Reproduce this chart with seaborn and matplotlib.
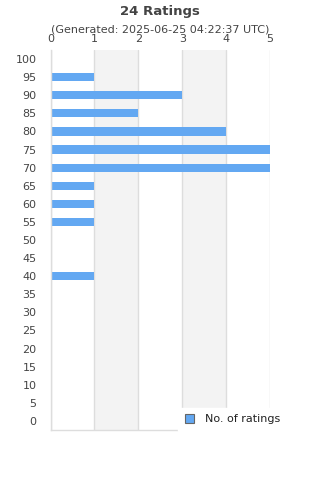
import matplotlib
matplotlib.use("Agg")
from matplotlib import pyplot as plt
import pandas as pd
import seaborn as sns

# ratings (score bucket) and how many ratings fell in each
scores = [100, 95, 90, 85, 80, 75, 70, 65, 60, 55, 50, 45, 40, 35, 30, 25, 20, 15, 10, 5, 0]
counts = [0, 1, 3, 2, 4, 5, 5, 1, 1, 1, 0, 0, 1, 0, 0, 0, 0, 0, 0, 0, 0]
title = "24 Ratings"
subtitle = "(Generated: 2025-06-25 04:22:37 UTC)"

df = pd.DataFrame({"score": [str(s) for s in scores], "n": counts})

sns.set_style("white")
plt.rcParams['font.family'] = ['DejaVu Sans']

fig = plt.figure(figsize=(3.2, 4.8), dpi=100)
ax = fig.add_axes([50.5 / 320, 1 - 430 / 480, 219.5 / 320, 380 / 480])

# alternating bands
for a in (1, 3):
    ax.axvspan(a, a + 1, color="#f3f3f3", zorder=0, lw=0)
for x in range(0, 6):
    ax.axvline(x, color="#dddddd", lw=1, zorder=1)

sns.barplot(data=df, x="n", y="score", order=df["score"], orient="h",
            color="#63a8f2", saturation=1, width=0.45, ax=ax, zorder=2,
            linewidth=0, label="No. of ratings")

ax.set_xlim(0, 5)
ax.set_ylim(20.5, -0.5)
ax.xaxis.tick_top()
ax.set_xticks(range(0, 6))
ax.tick_params(axis="both", length=0, labelsize=8, colors="#444444", pad=3)
ax.tick_params(axis="x", pad=4.5)
ax.tick_params(axis="y", pad=10)
ax.set_xlabel("")
ax.set_ylabel("")
for s in ("top", "right"):
    ax.spines[s].set_visible(False)
for s in ("left", "bottom"):
    ax.spines[s].set_color("#dddddd")
    ax.spines[s].set_linewidth(1)

fig.text(0.5, 1 - 12 / 480, title, ha="center", va="center",
         fontsize=9.5, fontweight="bold", color="#444444")
fig.text(0.5, 1 - 29 / 480, subtitle, ha="center", va="center",
         fontsize=8, color="#444444")

leg = ax.legend(loc="lower left", bbox_to_anchor=(178 / 320, 49 / 480),
                bbox_transform=fig.transFigure, frameon=True,
                fontsize=8, handlelength=0.8, handleheight=0.8,
                borderaxespad=0, fancybox=False, borderpad=0.6,
                handletextpad=1.0)
leg.get_frame().set_edgecolor("white")
leg.get_frame().set_facecolor("white")
leg.get_frame().set_alpha(1)
leg.set_zorder(5)
for h in leg.legend_handles:
    h.set_edgecolor("#666666")
    h.set_linewidth(0.8)
for t in leg.get_texts():
    t.set_color("#222222")

fig.savefig("out.png", dpi=100)
